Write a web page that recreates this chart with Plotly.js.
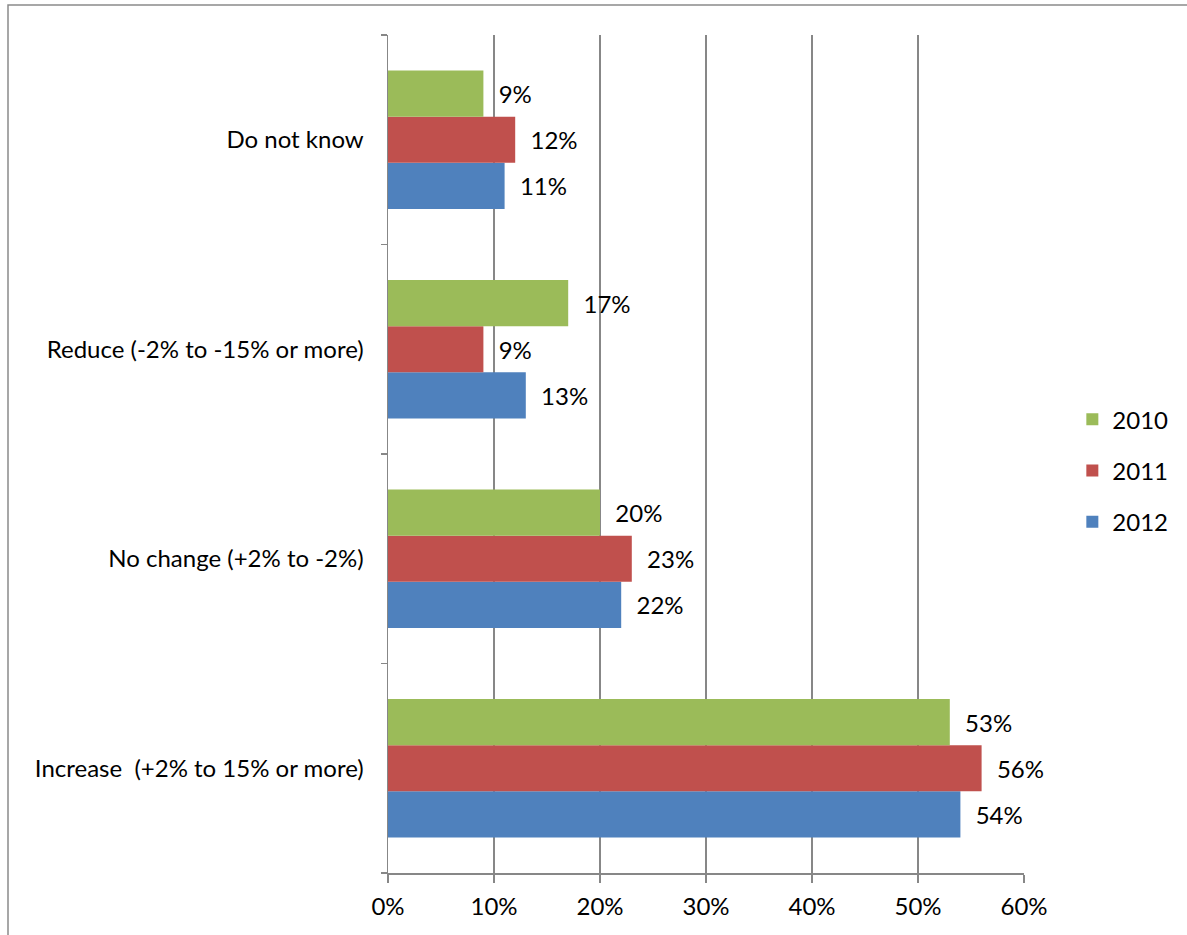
<!DOCTYPE html>
<html>
<head>
<meta charset="utf-8">
<script src="https://cdn.plot.ly/plotly-3.0.1.min.js"></script>
<style>html,body{margin:0;padding:0;background:#fff;}#chart{width:1187px;height:935px;}</style>
</head>
<body>
<div id="chart"></div>
<script>
const categories = ["Increase\u00A0 (+2% to 15% or more)", "No change (+2% to -2%)", "Reduce (-2% to -15% or more)", "Do not know"];
const years = ["2012", "2011", "2010"];
const values2012 = [54, 22, 13, 11];
const values2011 = [56, 23, 9, 12];
const values2010 = [53, 20, 17, 9];
const colors = {"2010": "#9BBB59", "2011": "#C0504D", "2012": "#4F81BD"};
const legendRanks = {"2010": 1, "2011": 2, "2012": 3};
const xTicks = [0, 10, 20, 30, 40, 50, 60];

const series = {"2012": values2012, "2011": values2011, "2010": values2010};
const FONT = "Lato, 'Liberation Sans', sans-serif";

const traces = years.map(y => ({
  type: "bar",
  orientation: "h",
  name: y,
  legendgroup: y,
  legendrank: legendRanks[y],
  y: categories,
  x: series[y],
  text: series[y].map(v => "\u00A0\u00A0" + v + "%"),
  textposition: "outside",
  textfont: {family: FONT, size: 24, color: "#000"},
  cliponaxis: false,
  marker: {color: colors[y], line: {width: 0}},
  hoverinfo: "none"
}));

const layout = {
  width: 1187, height: 935,
  margin: {l: 388, r: 163, t: 35, b: 62, autoexpand: false},
  paper_bgcolor: "#fff", plot_bgcolor: "#fff",
  font: {family: FONT, size: 24, color: "#000"},
  barmode: "group",
  bargap: 0.338,
  bargroupgap: 0,
  xaxis: {
    range: [0, 60],
    tickvals: xTicks,
    ticktext: xTicks.map(v => v + "%"),
    showgrid: true, gridcolor: "#878787", gridwidth: 1.5,
    showline: true, linecolor: "#878787", linewidth: 1.5,
    ticks: "outside", ticklen: 8, tickcolor: "#878787", tickwidth: 1.5,
    ticklabelstandoff: 4,
    zeroline: false,
    automargin: false,
    tickfont: {family: FONT, size: 24, color: "#000"},
    fixedrange: true
  },
  yaxis: {
    type: "category",
    showline: true, linecolor: "#878787", linewidth: 1.5,
    ticks: "outside", ticklen: 6, tickcolor: "#878787", tickwidth: 1.5,
    tickson: "boundaries",
    ticklabelstandoff: 18,
    showgrid: false, zeroline: false,
    automargin: false,
    tickfont: {family: FONT, size: 24, color: "#000"},
    fixedrange: true
  },
  showlegend: true,
  legend: {
    x: 1.076, xanchor: "left",
    y: 0.48, yanchor: "middle",
    traceorder: "grouped",
    tracegroupgap: 17,
    font: {family: FONT, size: 24, color: "#000"},
    bgcolor: "rgba(0,0,0,0)",
    itemwidth: 30
  },
  shapes: [{
    type: "rect", xref: "paper", yref: "paper",
    x0: (8 - 388) / 636, x1: 1.5,
    y0: -0.2, y1: (873 - 5) / 838,
    line: {color: "#8a8a8a", width: 1.5},
    fillcolor: "rgba(0,0,0,0)", layer: "below"
  }]
};

Plotly.newPlot("chart", traces, layout, {displayModeBar: false, staticPlot: true});
</script>
</body>
</html>
